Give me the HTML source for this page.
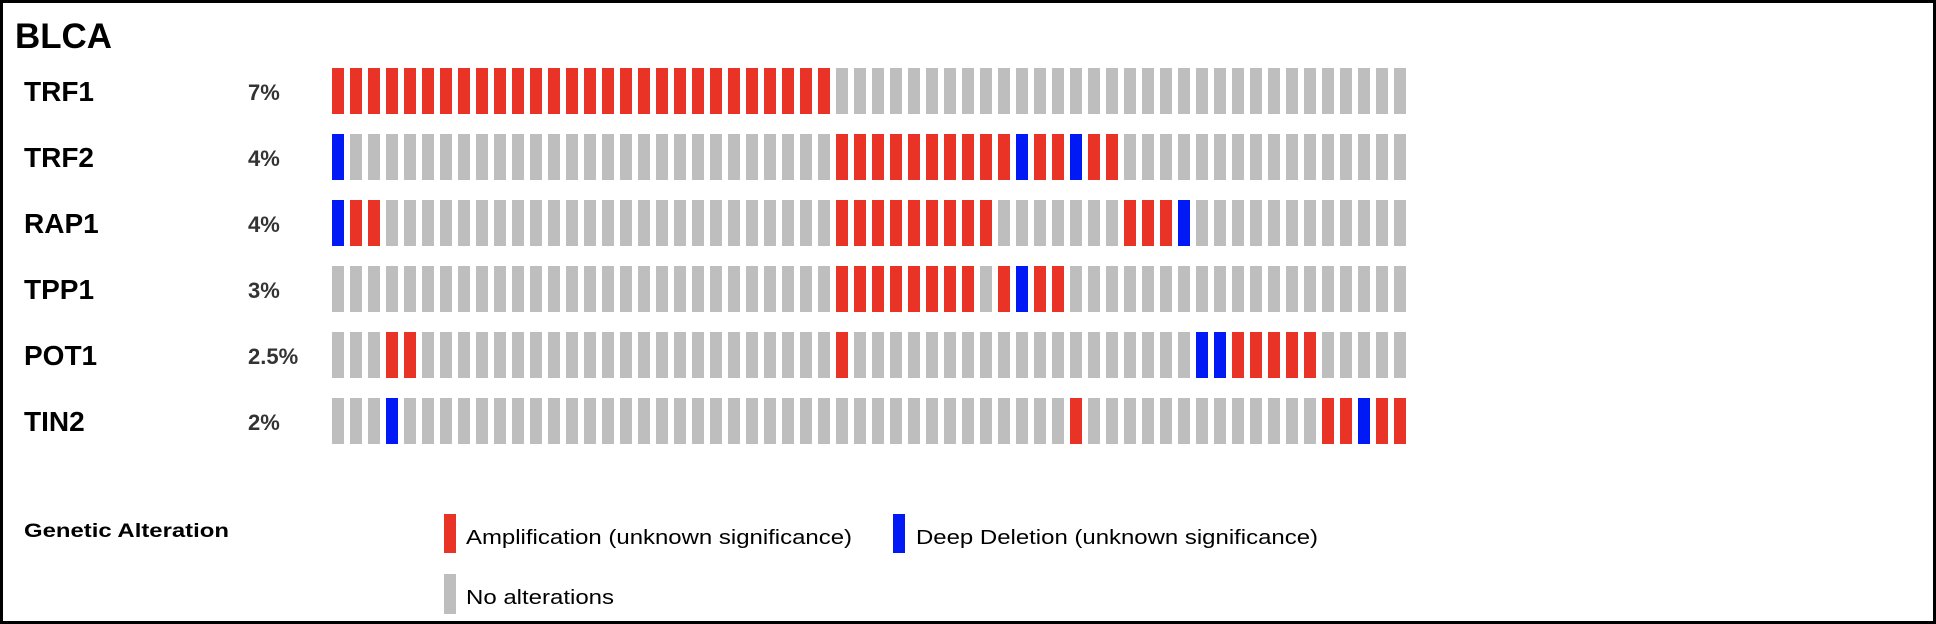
<!DOCTYPE html>
<html><head><meta charset="utf-8"><style>
html,body{margin:0;padding:0;background:#fff}
svg{display:block;font-family:"Liberation Sans",Arial,sans-serif}
</style></head><body>
<svg width="1936" height="624" viewBox="0 0 1936 624">
<rect x="1.5" y="1.5" width="1933" height="621" fill="#fff" stroke="#000" stroke-width="3"/>
<text x="15" y="48" font-size="35" font-weight="bold" textLength="97" lengthAdjust="spacingAndGlyphs">BLCA</text>
<g id="tracks"></g>
<text x="24" y="537" font-size="19" font-weight="bold" textLength="205" lengthAdjust="spacingAndGlyphs">Genetic Alteration</text>
<rect x="444" y="514" width="12" height="39" fill="#e93326"/>
<text x="466" y="544" font-size="20" textLength="386" lengthAdjust="spacingAndGlyphs">Amplification (unknown significance)</text>
<rect x="893" y="514" width="12" height="39" fill="#0019f5"/>
<text x="916" y="544" font-size="20" textLength="402" lengthAdjust="spacingAndGlyphs">Deep Deletion (unknown significance)</text>
<rect x="444" y="574" width="12" height="40" fill="#bebebe"/>
<text x="466" y="604" font-size="20" textLength="148" lengthAdjust="spacingAndGlyphs">No alterations</text>
</svg>
<script>
const genes = ["TRF1","TRF2","RAP1","TPP1","POT1","TIN2"];
const percents = ["7%","4%","4%","3%","2.5%","2%"];
const sampleCount = 60;
const ampSamples = [
  [0,1,2,3,4,5,6,7,8,9,10,11,12,13,14,15,16,17,18,19,20,21,22,23,24,25,26,27],
  [28,29,30,31,32,33,34,35,36,37,39,40,42,43],
  [1,2,28,29,30,31,32,33,34,35,36,44,45,46],
  [28,29,30,31,32,33,34,35,37,39,40],
  [3,4,28,50,51,52,53,54],
  [41,55,56,58,59]
];
const delSamples = [
  [],
  [0,38,41],
  [0,47],
  [38],
  [48,49],
  [3,57]
];
const NS = "http://www.w3.org/2000/svg";
const g = document.getElementById("tracks");
const x0 = 332, pitch = 18, barW = 12, y0 = 68, rowPitch = 66, barH = 46;
function xScale(i){ return x0 + i * pitch; }
function yScale(r){ return y0 + r * rowPitch; }
genes.forEach((gene, r) => {
  const lab = document.createElementNS(NS, "text");
  
  
  lab.setAttribute("x", 24); lab.setAttribute("y", yScale(r) + 33);
  lab.setAttribute("font-size", "28"); lab.setAttribute("font-weight", "bold");
  lab.textContent = gene;
  g.appendChild(lab);
  const pct = document.createElementNS(NS, "text");
  
  
  pct.setAttribute("x", 248); pct.setAttribute("y", yScale(r) + 32);
  pct.setAttribute("font-size", "22"); pct.setAttribute("font-weight", "bold");
  pct.setAttribute("fill", "#333");
  pct.textContent = percents[r];
  g.appendChild(pct);
  for (let i = 0; i < sampleCount; i++) {
    let fill = "#bebebe";
    if (ampSamples[r].includes(i)) fill = "#e93326";
    if (delSamples[r].includes(i)) fill = "#0019f5";
    const rc = document.createElementNS(NS, "rect");
    
    
    rc.setAttribute("x", xScale(i)); rc.setAttribute("y", yScale(r));
    rc.setAttribute("width", barW); rc.setAttribute("height", barH);
    rc.setAttribute("fill", fill);
    g.appendChild(rc);
  }
});
</script>
</body></html>
